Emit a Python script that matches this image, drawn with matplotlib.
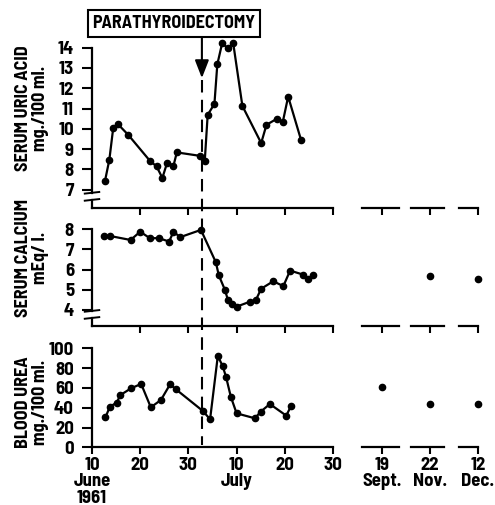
import matplotlib.pyplot as plt
from matplotlib.lines import Line2D
from matplotlib.transforms import blended_transform_factory
import numpy as np

plt.rcParams['font.family'] = ['Barlow Semi Condensed', 'DejaVu Sans']
plt.rcParams['font.weight'] = 'bold'
plt.rcParams['font.size'] = 12

# days counted from 1 June 1961 (so 1 July = day 31)
surgery_day = 32.8

uric_days = [12.7, 13.6, 14.4, 15.3, 17.5, 22.0, 23.4, 24.6, 25.6, 26.9, 27.6,
             32.4, 33.4, 34.0, 35.4, 36.0, 37.0, 38.2, 39.3, 41.2, 45.1, 46.2,
             48.3, 49.6, 50.7, 53.4]
uric_vals = [7.44, 8.48, 10.04, 10.25, 9.71, 8.43, 8.15, 7.58, 8.34, 8.18, 8.84,
             8.67, 8.44, 10.69, 11.23, 13.18, 14.22, 13.97, 14.22, 11.13, 9.30,
             10.20, 10.49, 10.36, 11.59, 9.43]

calcium_days = [12.5, 13.7, 18.0, 20.0, 22.0, 23.9, 26.0, 26.9, 28.3, 32.6, 35.7,
                36.3, 37.6, 38.2, 39.0, 40.0, 42.8, 44.0, 45.1, 47.6, 49.7, 51.1,
                53.8, 54.9, 55.9]
calcium_vals = [7.67, 7.67, 7.47, 7.88, 7.56, 7.56, 7.39, 7.88, 7.61, 7.97, 6.36,
                5.72, 4.98, 4.49, 4.28, 4.16, 4.41, 4.49, 5.05, 5.42, 5.18, 5.95,
                5.75, 5.51, 5.75]

urea_days = [12.8, 13.7, 15.1, 15.9, 18.1, 20.2, 22.2, 24.3, 26.2, 27.4, 33.0,
             34.5, 36.1, 37.1, 37.8, 38.8, 40.0, 43.8, 45.0, 46.9, 50.3, 51.3]
urea_vals = [30.3, 41, 45, 52.8, 59.6, 64, 40.4, 47.8, 63.6, 58.6, 36.7, 28.3,
             92.2, 82.1, 71.3, 51.1, 34.3, 29.3, 36, 43.7, 32, 41.7]

late_labels = ["19\nSept.", "22\nNov.", "12\nDec."]
late_uric = [np.nan, np.nan, np.nan]
late_calcium = [np.nan, 5.70, 5.51]
late_urea = [61, 44, 44]

x_ticks = [10, 20, 30, 40, 50, 60]
x_ticklabels = ["10\nJune\n1961", "20", "30", "10\nJuly", "20", "30"]

W, H = 495, 505
fig = plt.figure(figsize=(W / 100, H / 100), dpi=100)

# panel rows: (top px, bottom px, ylim, yticks, label, label centre px, axis break)
rows = [
    (47.7, 208, (6.1, 14), range(7, 15), "SERUM URIC ACID\nmg./100 ml.", 108, (6.5, 6.85)),
    (229.3, 326, (3.2, 8), range(4, 9), "SERUM CALCIUM\nmEq/ l.", 258, (3.6, 3.95)),
    (348.3, 447.3, (0, 100), range(0, 101, 20), "BLOOD UREA\nmg./100 ml.", 402, None),
]
series = [(uric_days, uric_vals, late_uric),
          (calcium_days, calcium_vals, late_calcium),
          (urea_days, urea_vals, late_urea)]

# late-date axes: (left px, tick px, right px)
late_cols = [(362, 382, 399), (411, 430, 444), (459, 478, 478)]

line_kw = dict(color="black", lw=1.6, marker="o", ms=4.5, clip_on=False)
axes = []
for i, (top, bot, ylim, yticks, label, label_y, brk) in enumerate(rows):
    ax = fig.add_axes([92 / W, 1 - bot / H, 241 / W, (bot - top) / H])
    days, vals, late = series[i]
    ax.plot(days, vals, **line_kw)
    ax.set_xlim(10, 60)
    ax.set_ylim(*ylim)
    ax.set_yticks(list(yticks))
    for s in ["top", "right"]:
        ax.spines[s].set_visible(False)
    for s in ["left", "bottom"]:
        ax.spines[s].set_linewidth(1.6)
    ax.tick_params(axis="x", direction="out", length=5, width=1.5, labelsize=13.5, pad=2)
    ax.tick_params(axis="y", direction="out", length=7, width=1.5, labelsize=13.5, pad=6)
    if i < 2:
        ax.set_xticks(x_ticks[1:])
        ax.set_xticklabels([])
    else:
        ax.set_xticks(x_ticks)
        ax.set_xticklabels(x_ticklabels, fontsize=13.5, linespacing=0.95)
    if brk is not None:
        lo, hi = brk
        ax.spines["left"].set_bounds(hi, ylim[1])
        tr = blended_transform_factory(ax.transAxes, ax.transData)
        ax.plot([0, 0], [ylim[0], lo], color="black", lw=1.6, transform=tr, clip_on=False)
        for yb in (lo, hi):
            ax.plot([-0.03, 0.03], [yb - 0.04, yb + 0.04], color="black", lw=1.4,
                    transform=tr, clip_on=False)
    fig.text(32 / W, 1 - label_y / H, label, rotation=90, ha="center", va="center",
             multialignment="center", fontsize=13, linespacing=1.05)
    axes.append(ax)

    # separate short axes for the later follow-up dates
    for j, (l, t, r) in enumerate(late_cols):
        lax = fig.add_axes([l / W, 1 - bot / H, (r - l) / W, (bot - top) / H])
        lax.set_xlim(l - t, r - t)
        lax.set_ylim(*ylim)
        lax.plot([0], [late[j]], **line_kw)
        for s in ["top", "right", "left"]:
            lax.spines[s].set_visible(False)
        lax.spines["bottom"].set_linewidth(1.6)
        lax.set_yticks([])
        lax.set_xticks([0])
        lax.tick_params(direction="out", length=5, width=1.5, labelsize=13.5, pad=2)
        if i < 2:
            lax.set_xticklabels([])
        else:
            lax.set_xticklabels([late_labels[j]], fontsize=13.5, linespacing=0.95)

# dashed line at the operation, running through all panels
tr = blended_transform_factory(axes[2].transData, fig.transFigure)
fig.add_artist(Line2D([surgery_day, surgery_day], [1 - 80 / H, 1 - 445 / H],
                      transform=tr, color="black", lw=1.5, dashes=(6, 3.5)))

# label box and arrow
fig.text(174 / W, 1 - 23.5 / H, "PARATHYROIDECTOMY", ha="center", va="center",
         fontsize=13,
         bbox=dict(boxstyle="square,pad=0.25", fc="white", ec="black", lw=1.5))
axes[0].annotate("", xy=(surgery_day, 12.5), xytext=(surgery_day, 14.6),
                 xycoords="data", annotation_clip=False,
                 arrowprops=dict(arrowstyle="-|>,head_length=0.9,head_width=0.35",
                                 color="black", lw=1.5, shrinkA=0, shrinkB=0))

plt.savefig("out.png", dpi=100)
